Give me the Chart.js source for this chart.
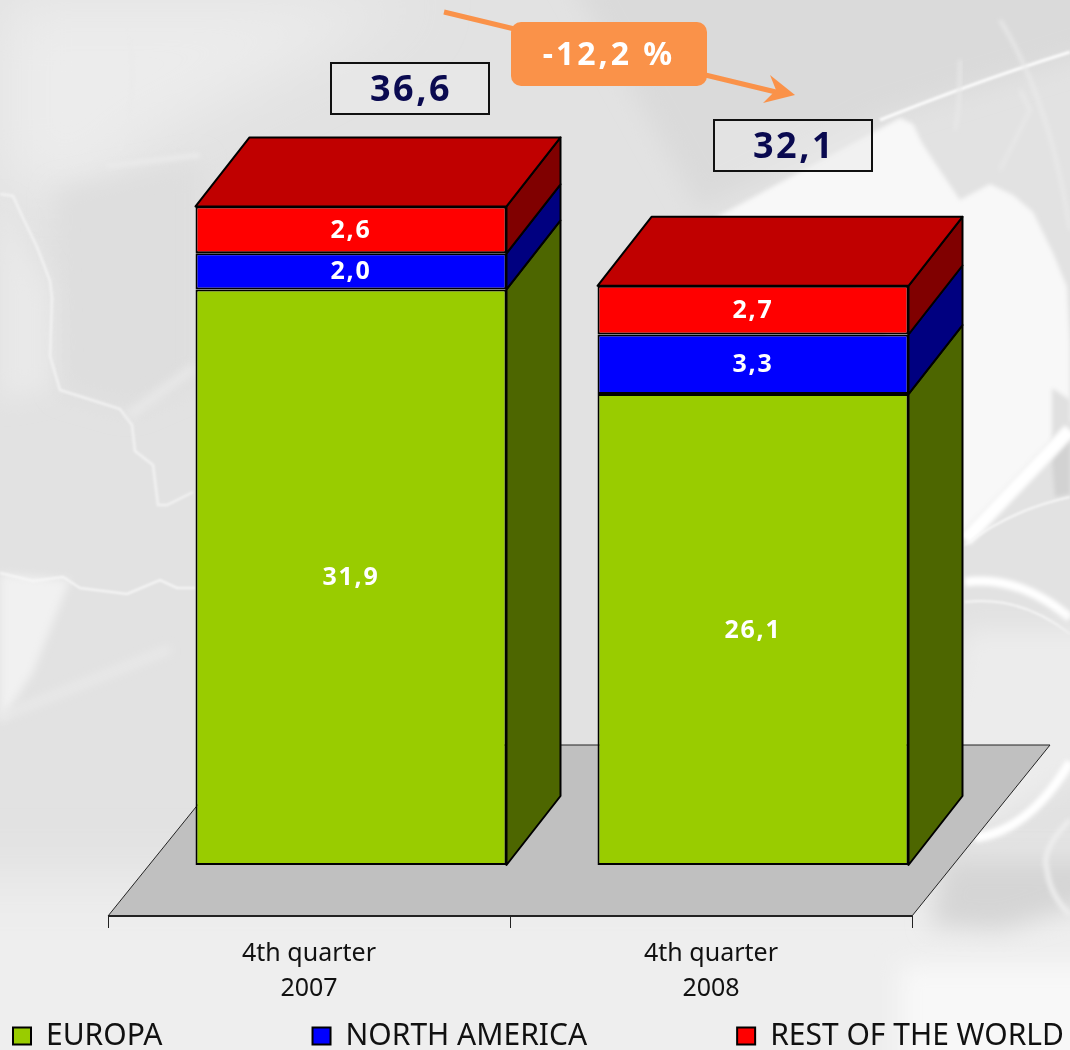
<!DOCTYPE html>
<html>
<head>
<meta charset="utf-8">
<title>Stacked bars 4th quarter</title>
<script src="https://cdn.jsdelivr.net/npm/chart.js@4"></script>
<style>
  html, body { margin: 0; padding: 0; width: 1070px; height: 1050px; overflow: hidden; background: #e4e4e4; }
  #bg { position: absolute; left: 0; top: 0; }
  #myChart { position: absolute; left: 0; top: 0; }
</style>
</head>
<body>
<!-- backdrop photo, roughly redrawn -->
<svg id="bg" width="1070" height="1050" viewBox="0 0 1070 1050">
  <defs>
    <filter id="b30" x="-50%" y="-100%" width="200%" height="300%"><feGaussianBlur stdDeviation="30"/></filter>
    <filter id="b12" x="-50%" y="-50%" width="200%" height="200%"><feGaussianBlur stdDeviation="12"/></filter>
    <filter id="b4" x="-50%" y="-50%" width="200%" height="200%"><feGaussianBlur stdDeviation="4"/></filter>
    <filter id="b2" x="-50%" y="-50%" width="200%" height="200%"><feGaussianBlur stdDeviation="2"/></filter>
    <filter id="b1" x="-50%" y="-50%" width="200%" height="200%"><feGaussianBlur stdDeviation="0.8"/></filter>
  </defs>
  <rect width="1070" height="1050" fill="#e2e2e2"/>
  <path d="M0 0H420L130 150L100 190L0 190Z" fill="#ececec" filter="url(#b30)"/>
  <path d="M55 190L200 160V380L130 410L60 390Z" fill="#dedede" filter="url(#b12)"/>
  <path d="M0 200L50 290V390L0 400Z" fill="#e9e9e9" filter="url(#b12)"/>
  <path d="M0 574L70 580L33 672L0 723Z" fill="#f1f1f1" filter="url(#b4)"/>
  <path d="M-100 880H1170V1150H-100Z" fill="#eeeeee" filter="url(#b30)"/>
  <path d="M900 965H1100V1080H900Z" fill="#f8f8f8" filter="url(#b12)"/>
  <path d="M560 -40H1100V50L880 118L700 210Z" fill="#dadada" filter="url(#b12)"/>
  <path d="M715 218L900 118L913 124L922 143L937 166L960 200L990 184L1013 195L1033 212L1053 253L1067 287L1070 344V420L965 530L920 560L880 300Z" fill="#f8f8f8" filter="url(#b2)"/>
  <path d="M880 120Q980 80 1070 52" stroke="#fbfbfb" stroke-width="3" fill="none" filter="url(#b1)"/>
  <path d="M1000 20Q1050 100 1070 230" stroke="#ebebeb" stroke-width="3" fill="none" filter="url(#b2)"/>
  <path d="M960 60Q960 110 955 130" stroke="#e9e9e9" stroke-width="3" fill="none" filter="url(#b2)"/>
  <path d="M1000 170L1030 110L1020 90" stroke="#e9e9e9" stroke-width="3" fill="none" filter="url(#b2)"/>
  <path d="M1052 388L1070 400V440L1052 460Z" fill="#e0e0e0" filter="url(#b2)"/>
  <path d="M1052 459L1070 436V494L1055 497Z" fill="#d2d2d2" filter="url(#b2)"/>
  <path d="M965 540L1070 430" stroke="#ffffff" stroke-width="14" fill="none" filter="url(#b2)"/>
  <path d="M965 545Q1010 510 1070 497" stroke="#f8f8f8" stroke-width="2" fill="none" filter="url(#b1)"/>
  <path d="M965 582Q1020 575 1070 618" stroke="#ffffff" stroke-width="9" fill="none" filter="url(#b2)"/>
  <path d="M965 602Q1020 595 1070 634" stroke="#f6f6f6" stroke-width="2" fill="none" filter="url(#b1)"/>
  <path d="M965 630H1100V760L980 830L930 800Z" fill="#ececec" filter="url(#b12)"/>
  <path d="M945 860H1100V900L1000 930L930 925Z" fill="#d5d5d5" filter="url(#b12)"/>
  <path d="M975 838Q1030 830 1070 762" stroke="#ffffff" stroke-width="9" fill="none" filter="url(#b2)"/>
  <path d="M1070 820Q1040 850 1047 870Q1050 895 1070 915" stroke="#eeeeee" stroke-width="5" fill="none" filter="url(#b2)"/>
  <path d="M0 194L13 196L23 218L37 247L50 281L52 298L50 356L60 390L120 409L132 425L135 451L153 465L158 505L167 505L193 492" stroke="#f2f2f2" stroke-width="2.5" fill="none" filter="url(#b1)"/>
  <path d="M0 573L33 581L63 577L80 588L127 594L160 580L177 588L195 588" stroke="#f8f8f8" stroke-width="2" fill="none" filter="url(#b1)"/>
  <path d="M128 416L195 367" stroke="#e9e9e9" stroke-width="8" fill="none" filter="url(#b4)"/>
  <path d="M0 717L170 649" stroke="#e9e9e9" stroke-width="8" fill="none" filter="url(#b4)"/>
  <path d="M127 25Q140 90 120 150" stroke="#eaeaea" stroke-width="4" fill="none" filter="url(#b2)"/>
  <path d="M107 166L200 155" stroke="#eaeaea" stroke-width="5" fill="none" filter="url(#b2)"/>
</svg>
<canvas id="myChart" width="1070" height="1050"></canvas>
<script>
const chartPlace = document.getElementById("myChart");

const categories = [["4th quarter", "2007"], ["4th quarter", "2008"]];
const europaValues = [31.9, 26.1];
const northAmericaValues = [2.0, 3.3];
const restOfWorldValues = [2.6, 2.7];
const totalLabels = ["36,6", "32,1"];
const changeLabel = "-12,2 %";

const seriesNames = ["EUROPA", "NORTH AMERICA", "REST OF THE WORLD"];
const frontColors = ["#99cc00", "#0000ff", "#ff0000"];
const sideColors = ["#4d6600", "#000080", "#800000"];
const topColor = "#c00000";

// 3d look, Chart.js only does flat bars
const barShift = { x: 42, y: -51 };
const barDepth = { x: 54, y: -69 };
const floorDepth = { x: 138, y: -171 };

const boldFont = '"Noto Sans", sans-serif';
const legendGap = 150;

function poly(ctx, pts, fill) {
  ctx.beginPath();
  ctx.moveTo(pts[0][0], pts[0][1]);
  for (let i = 1; i < pts.length; i++) ctx.lineTo(pts[i][0], pts[i][1]);
  ctx.closePath();
  ctx.fillStyle = fill;
  ctx.fill();
  ctx.stroke();
}

// labels.padding is also used vertically, so the legend gets moved by hand
const legendPlace = {
  id: "legendPlace",
  beforeInit(chart) {
    const fit = chart.legend.fit;
    chart.legend.fit = function () {
      fit.call(this);
      this.height = 0;
    };
  },
  afterLayout(chart) {
    const lg = chart.legend;
    lg.left = 13 - legendGap;
    lg.right = 1700;
    lg.top = 1021 - legendGap;
    lg.bottom = 1050;
    lg.width = lg.right - lg.left;
    lg.height = lg.bottom - lg.top;
  }
};

const bars3d = {
  id: "bars3d",
  beforeDatasetsDraw(chart) {
    const ctx = chart.ctx;
    const x = chart.scales.x;
    const bottom = chart.chartArea.bottom;

    ctx.save();
    ctx.strokeStyle = "#222";
    ctx.lineWidth = 1;
    poly(ctx, [
      [x.left, bottom],
      [x.right, bottom],
      [x.right + floorDepth.x, bottom + floorDepth.y],
      [x.left + floorDepth.x, bottom + floorDepth.y]
    ], "#c0c0c0");
    ctx.lineWidth = 2;
    ctx.beginPath();
    ctx.moveTo(x.left, bottom);
    ctx.lineTo(x.right, bottom);
    ctx.stroke();
    ctx.restore();

    ctx.save();
    ctx.translate(barShift.x, barShift.y);
    ctx.strokeStyle = "#000";
    ctx.lineWidth = 2;
    ctx.lineJoin = "round";
    chart.data.datasets.forEach((ds, d) => {
      chart.getDatasetMeta(d).data.forEach((el) => {
        const r = el.x + el.width / 2;
        poly(ctx, [
          [r, el.base],
          [r + barDepth.x, el.base + barDepth.y],
          [r + barDepth.x, el.y + barDepth.y],
          [r, el.y]
        ], sideColors[d]);
      });
    });
    const last = chart.data.datasets.length - 1;
    chart.getDatasetMeta(last).data.forEach((el) => {
      const l = el.x - el.width / 2;
      const r = el.x + el.width / 2;
      poly(ctx, [
        [l, el.y],
        [r, el.y],
        [r + barDepth.x, el.y + barDepth.y],
        [l + barDepth.x, el.y + barDepth.y]
      ], topColor);
    });
    // left open on purpose, closed in afterDatasetsDraw so the bars get the shift too
  },
  afterDatasetsDraw(chart) {
    const ctx = chart.ctx;
    ctx.restore();

    ctx.save();
    ctx.fillStyle = "#fff";
    ctx.textAlign = "center";
    ctx.textBaseline = "middle";
    ctx.font = "bold 25px " + boldFont;
    ctx.letterSpacing = "1.7px";
    chart.data.datasets.forEach((ds, d) => {
      chart.getDatasetMeta(d).data.forEach((el, i) => {
        const txt = ds.data[i].toFixed(1).replace(".", ",");
        ctx.fillText(txt, el.x + barShift.x, (el.y + el.base) / 2 + barShift.y + 1);
      });
    });
    ctx.restore();
  },
  afterDraw(chart) {
    const ctx = chart.ctx;
    ctx.save();

    // arrow behind the orange label
    ctx.strokeStyle = "#fa9249";
    ctx.fillStyle = "#fa9249";
    ctx.lineWidth = 5;
    ctx.beginPath();
    ctx.moveTo(444, 12);
    ctx.lineTo(780, 93);
    ctx.stroke();
    ctx.beginPath();
    ctx.moveTo(795, 95);
    ctx.lineTo(770, 75);
    ctx.lineTo(776, 90);
    ctx.lineTo(763, 103);
    ctx.closePath();
    ctx.fill();
    ctx.beginPath();
    ctx.roundRect(511, 22, 196, 64, 10);
    ctx.fill();

    ctx.textAlign = "center";
    ctx.textBaseline = "middle";
    ctx.fillStyle = "#fff";
    ctx.font = "bold 32px " + boldFont;
    ctx.letterSpacing = "3px";
    ctx.fillText(changeLabel, 609, 56);

    // boxes with the totals
    const boxes = [[331, 63], [714, 120]];
    ctx.font = "bold 36px " + boldFont;
    ctx.letterSpacing = "2.5px";
    boxes.forEach((b, i) => {
      ctx.fillStyle = "rgba(235,235,235,0.55)";
      ctx.strokeStyle = "#111";
      ctx.lineWidth = 2;
      ctx.fillRect(b[0], b[1], 158, 51);
      ctx.strokeRect(b[0], b[1], 158, 51);
      ctx.fillStyle = "#0a0a50";
      ctx.fillText(totalLabels[i], b[0] + 80, b[1] + 28);
    });
    ctx.restore();
  }
};

const myChart = new Chart(chartPlace, {
  type: "bar",
  plugins: [legendPlace, bars3d],
  data: {
    labels: categories,
    datasets: [europaValues, northAmericaValues, restOfWorldValues].map((vals, i) => ({
      label: seriesNames[i],
      data: vals,
      backgroundColor: frontColors[i],
      borderColor: "#000",
      borderWidth: 2,
      borderSkipped: false,
      clip: false
    }))
  },
  options: {
    responsive: false,
    animation: false,
    barPercentage: 0.7736,
    categoryPercentage: 1,
    layout: { padding: { left: 108, right: 158, top: 104, bottom: 0 } },
    scales: {
      x: {
        stacked: true,
        afterFit(scale) { scale.height = 134; },
        border: { color: "#222", width: 1 },
        grid: { drawOnChartArea: false, color: "#222", tickLength: 12, offset: true },
        ticks: {
          maxRotation: 0,
          autoSkip: false,
          padding: 8,
          color: "#111",
          font: { family: '"Noto Sans", sans-serif', size: 25, lineHeight: 1.4 }
        }
      },
      y: { stacked: true, display: false, min: 0, max: 45 }
    },
    plugins: {
      tooltip: { enabled: false },
      title: { display: false },
      legend: {
        position: "bottom",
        align: "start",
        labels: {
          color: "#111",
          boxWidth: 18,
          boxHeight: 17,
          padding: legendGap,
          font: { family: '"Noto Sans", sans-serif', size: 30 }
        }
      }
    }
  }
});
</script>
</body>
</html>
